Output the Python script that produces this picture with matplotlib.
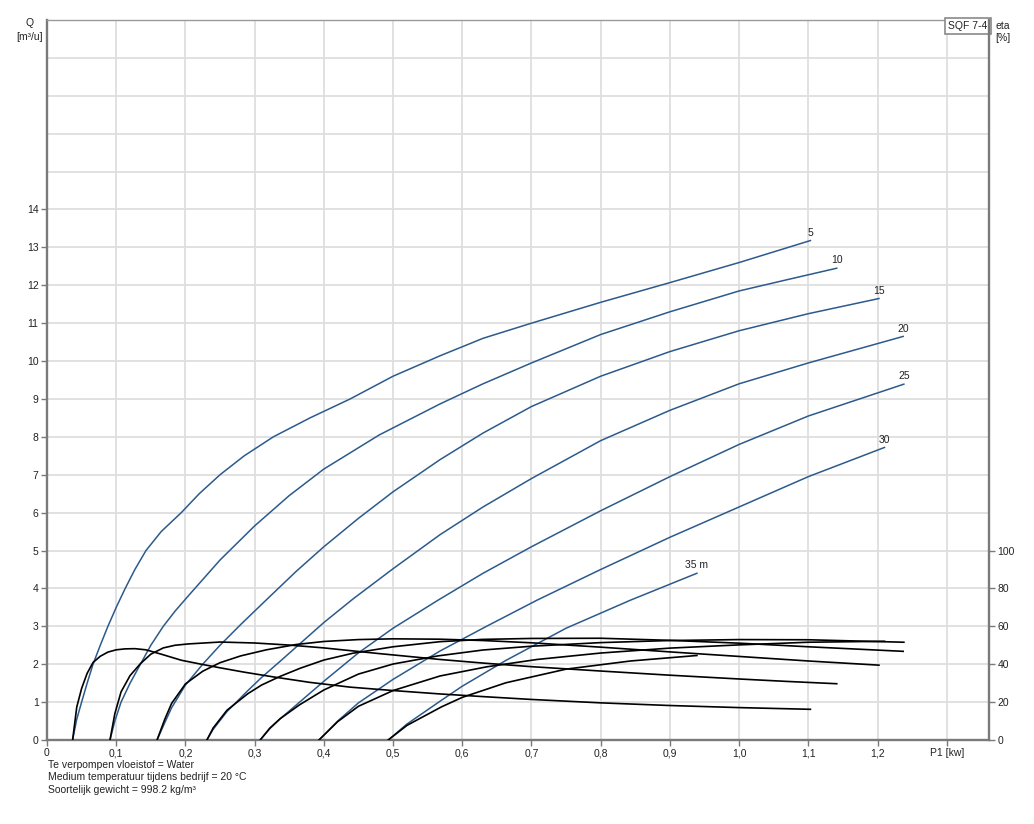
import matplotlib.pyplot as plt

plt.rcParams['font.family'] = ['Liberation Sans', 'DejaVu Sans']

# P1 [kW], Q [m3/h] and eta [%] per head
p_5 = [0.037, 0.043, 0.050, 0.058, 0.0665, 0.077, 0.088, 0.100, 0.113, 0.127, 0.143, 0.165, 0.194, 0.220,
       0.250, 0.285, 0.327, 0.380, 0.438, 0.500, 0.568, 0.630, 0.700, 0.800, 0.900, 1.000, 1.103]
q_5 = [0, 0.55, 1.0, 1.5, 2.0, 2.5, 3.0, 3.5, 4.0, 4.5, 5.0, 5.5, 6.0, 6.5,
       7.0, 7.5, 8.0, 8.5, 9.0, 9.6, 10.14, 10.6, 11.0, 11.55, 12.07, 12.6, 13.18]
eta_5 = [0, 17.4, 27.2, 35.2, 40.9, 44.2, 46.4, 47.6, 48.1, 48.2, 47.6, 45.3, 42.1, 40.2,
         38.1, 35.8, 33.3, 30.4, 27.9, 26.1, 24.3, 22.9, 21.4, 19.6, 18.2, 17.1, 16.2]

p_10 = [0.091, 0.098, 0.107, 0.120, 0.135, 0.150, 0.168, 0.185, 0.204, 0.250, 0.300, 0.350, 0.400, 0.480,
        0.568, 0.630, 0.700, 0.800, 0.900, 1.000, 1.070, 1.141]
q_10 = [0, 0.5, 1.0, 1.5, 2.0, 2.5, 3.0, 3.4, 3.8, 4.75, 5.65, 6.45, 7.15, 8.05,
        8.87, 9.4, 9.95, 10.7, 11.3, 11.85, 12.15, 12.45]
eta_10 = [0, 13.9, 25.4, 34.0, 40.3, 45.3, 48.6, 50.0, 50.7, 51.7, 51.2, 50.1, 48.6, 45.6,
          42.5, 40.6, 38.7, 36.4, 34.2, 32.2, 30.9, 29.7]

p_15 = [0.159, 0.170, 0.180, 0.200, 0.225, 0.250, 0.280, 0.317, 0.360, 0.400, 0.450, 0.500, 0.568, 0.630,
        0.700, 0.800, 0.900, 1.000, 1.100, 1.202]
q_15 = [0, 0.45, 0.85, 1.45, 2.0, 2.5, 3.05, 3.7, 4.45, 5.1, 5.85, 6.55, 7.4, 8.1,
        8.8, 9.6, 10.25, 10.8, 11.25, 11.65]
eta_15 = [0, 10.8, 19.3, 29.6, 36.3, 40.8, 44.4, 47.6, 50.4, 52.0, 53.0, 53.4, 53.2, 52.5,
          51.3, 49.0, 46.5, 44.1, 41.7, 39.5]

p_20 = [0.231, 0.240, 0.260, 0.290, 0.310, 0.337, 0.366, 0.400, 0.442, 0.500, 0.568, 0.630, 0.700, 0.800,
        0.900, 1.000, 1.100, 1.237]
q_20 = [0, 0.28, 0.75, 1.3, 1.65, 2.08, 2.55, 3.1, 3.72, 4.52, 5.42, 6.15, 6.9, 7.9,
        8.7, 9.4, 9.95, 10.65]
eta_20 = [0, 6.3, 15.7, 24.4, 29.0, 33.6, 37.9, 42.2, 45.8, 49.2, 51.9, 53.1, 53.6, 53.7,
          52.6, 51.1, 49.2, 46.8]

p_25 = [0.308, 0.322, 0.337, 0.365, 0.400, 0.450, 0.500, 0.565, 0.630, 0.700, 0.800, 0.900, 1.000, 1.100, 1.238]
q_25 = [0, 0.3, 0.56, 1.0, 1.55, 2.3, 2.95, 3.69, 4.4, 5.1, 6.05, 6.95, 7.8, 8.55, 9.39]
eta_25 = [0, 6.3, 11.3, 18.6, 26.4, 34.8, 40.1, 44.4, 47.5, 49.5, 51.4, 52.5, 53.0, 52.9, 51.6]

p_30 = [0.393, 0.420, 0.450, 0.500, 0.568, 0.635, 0.708, 0.800, 0.900, 1.000, 1.100, 1.210]
q_30 = [0, 0.5, 0.98, 1.6, 2.35, 3.0, 3.69, 4.5, 5.35, 6.15, 6.95, 7.72]
eta_30 = [0, 9.7, 17.8, 26.1, 33.8, 38.6, 42.5, 45.9, 48.5, 50.2, 51.6, 52.1]

p_35 = [0.493, 0.520, 0.570, 0.600, 0.663, 0.750, 0.843, 0.939]
q_35 = [0, 0.42, 1.05, 1.42, 2.1, 2.95, 3.69, 4.4]
eta_35 = [0, 7.7, 17.5, 22.5, 30.2, 37.4, 41.7, 44.6]

head_labels = ['5', '10', '15', '20', '25', '30', '35 m']
curves = [(p_5, q_5, eta_5), (p_10, q_10, eta_10), (p_15, q_15, eta_15), (p_20, q_20, eta_20),
          (p_25, q_25, eta_25), (p_30, q_30, eta_30), (p_35, q_35, eta_35)]

x_ticks = [0, 0.1, 0.2, 0.3, 0.4, 0.5, 0.6, 0.7, 0.8, 0.9, 1.0, 1.1, 1.2, 1.3]
x_tick_labels = ['0', '0,1', '0,2', '0,3', '0,4', '0,5', '0,6', '0,7', '0,8', '0,9', '1,0', '1,1', '1,2', 'P1 [kw]']
q_ticks = list(range(0, 15))
eta_ticks = [0, 20, 40, 60, 80, 100]
notes = ['Te verpompen vloeistof = Water',
         'Medium temperatuur tijdens bedrijf = 20 °C',
         'Soortelijk gewicht = 998.2 kg/m³']

BLUE = '#2c5a8c'
SPINE = '#7a7a7a'
GRID = '#dedede'
FS = 7.5

fig = plt.figure(figsize=(10.34, 8.24), dpi=100)
ax = fig.add_axes([47 / 1034, 1 - 740 / 824, 942 / 1034, 720 / 824])
ax.set_xlim(0, 1.361)
ax.set_ylim(0, 19)
ax2 = ax.twinx()
ax2.set_ylim(0, 380)

# grid: every unit of Q and every 0.1 kW, labels only in the lower part
ax.set_xticks(x_ticks)
ax.set_xticklabels(x_tick_labels)
ax.set_yticks(q_ticks)
ax.set_yticks(range(15, 19), minor=True)
ax.grid(which='both', color=GRID, linewidth=1.3)
ax.set_axisbelow(True)
ax.tick_params(which='major', length=4, width=1, color=SPINE, labelsize=FS, labelcolor='#222222', pad=2)
ax.tick_params(which='minor', length=0)

ax2.set_yticks(eta_ticks)
ax2.tick_params(length=4, width=1, color=SPINE, labelsize=FS, labelcolor='#222222', pad=2)

for a in (ax, ax2):
    for side in a.spines:
        a.spines[side].set_visible(False)
ax.spines['left'].set_visible(True)
ax.spines['bottom'].set_visible(True)
ax.spines['top'].set_visible(True)
ax2.spines['right'].set_visible(True)
for sp in (ax.spines['left'], ax.spines['bottom'], ax2.spines['right']):
    sp.set_color(SPINE)
    sp.set_linewidth(1.7)
ax.spines['top'].set_color('#9a9a9a')
ax.spines['top'].set_linewidth(1.0)

for (p, q, eta), name in zip(curves, head_labels):
    ax.plot(p, q, color=BLUE, linewidth=1.1, solid_joinstyle='round', zorder=3)
    ax2.plot(p, eta, color='black', linewidth=1.2, solid_joinstyle='round', zorder=3)
    ax.annotate(name, (p[-1], q[-1]), xytext=(0, 2), textcoords='offset points',
                ha='center', va='bottom', fontsize=FS, color='#222222')

ax.text(0.9985, 0.9985, 'SQF 7-4', transform=ax.transAxes, ha='right', va='top', fontsize=FS,
        color='#222222', zorder=5,
        bbox=dict(boxstyle='square,pad=0.3', facecolor='white', edgecolor='#8a8a8a', linewidth=1.2))

fig.text(30 / 1034, 1 - 30 / 824, 'Q\n[m³/u]', ha='center', va='center', fontsize=FS,
         color='#222222', linespacing=1.45)
fig.text(995 / 1034, 1 - 32 / 824, 'eta\n[%]', ha='left', va='center', fontsize=FS,
         color='#222222', linespacing=1.3)

for i, line in enumerate(notes):
    fig.text(48 / 1034, 1 - (765 + 12.5 * i) / 824, line, ha='left', va='center', fontsize=FS,
             color='#222222')

fig.savefig('out.png', dpi=100)
